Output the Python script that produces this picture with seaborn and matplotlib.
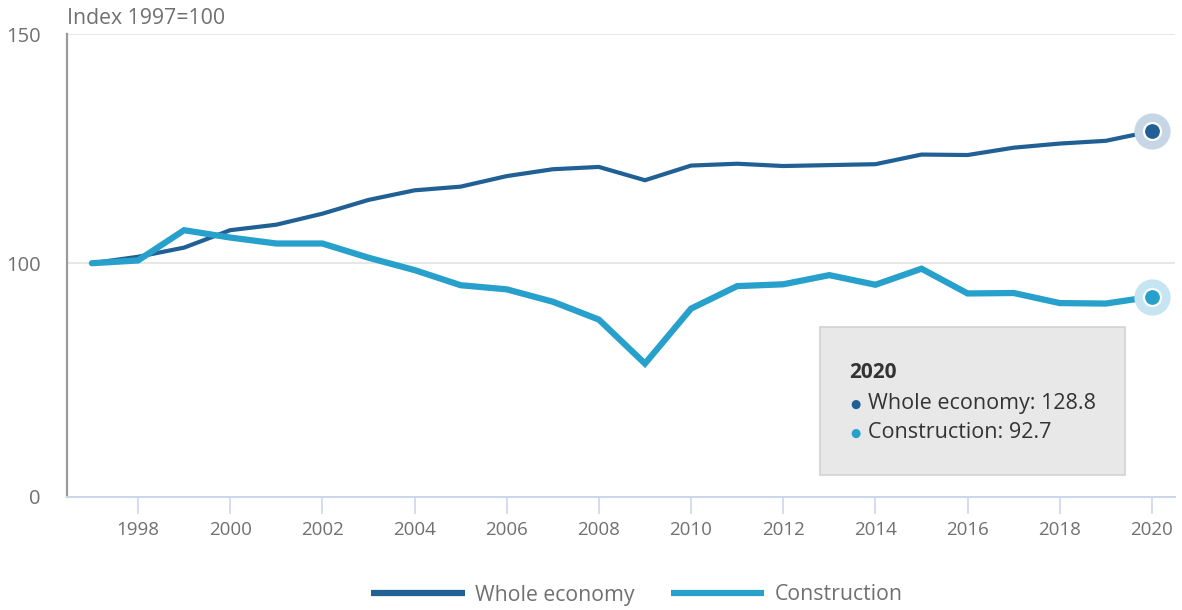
import matplotlib
matplotlib.use("Agg")
import matplotlib.pyplot as plt
from matplotlib.patches import Rectangle
from matplotlib.lines import Line2D
import numpy as np
import pandas as pd
import seaborn as sns

# Output per worker, index 1997 = 100
years = list(range(1997, 2021))
whole_economy = [100.0, 101.4, 103.4, 107.2, 108.4, 110.8, 113.8, 115.9, 116.7, 119.0,
                 120.5, 121.0, 118.1, 121.3, 121.7, 121.2, 121.4, 121.6, 123.7, 123.6,
                 125.2, 126.1, 126.7, 128.8]
construction = [100.0, 100.6, 107.2, 105.6, 104.3, 104.3, 101.2, 98.5, 95.2, 94.3,
                91.6, 87.7, 78.1, 90.1, 95.0, 95.4, 97.4, 95.3, 98.8, 93.4,
                93.5, 91.3, 91.2, 92.7]
series_names = ["Whole economy", "Construction"]
series_colors = ["#206095", "#27a0cc"]
halo_colors = ["#c7d6e4", "#c4e5f1"]
x_ticks = list(range(1998, 2021, 2))
y_ticks = [49, 100, 150]
y_tick_labels = ["0", "100", "150"]
unit_label = "Index 1997=100"
tooltip_year = 2020

sns.set_theme(style="white")
plt.rcParams["font.family"] = ["Open Sans", "DejaVu Sans"]

df = pd.DataFrame({
    "year": years * 2,
    "value": whole_economy + construction,
    "series": [series_names[0]] * len(years) + [series_names[1]] * len(years),
})

fig = plt.figure(figsize=(11.82, 6.10), dpi=100)
ax = fig.add_axes([67 / 1182, 1 - 497 / 610, (1175 - 67) / 1182, (497 - 34) / 610])

sns.lineplot(data=df, x="year", y="value", hue="series", hue_order=series_names,
             palette=series_colors, ax=ax, legend=False, sort=True)
widths = [3.0, 4.5]
for line, lw in zip(ax.get_lines(), widths):
    line.set_linewidth(lw)
    line.set_solid_joinstyle("miter")

# Highlighted last points
last_vals = [whole_economy[-1], construction[-1]]
for val, col, halo in zip(last_vals, series_colors, halo_colors):
    ax.scatter([years[-1]], [val], s=680, color=halo, zorder=4, linewidths=0)
    ax.scatter([years[-1]], [val], s=150, color=col, edgecolor="white",
               linewidths=1.6, zorder=5)

ax.set_xlim(1996.46, 2020.5)
ax.set_ylim(49, 150)
ax.set_xticks(x_ticks)
ax.set_xticklabels([str(y) for y in x_ticks])
ax.set_yticks(y_ticks)
ax.set_yticklabels(y_tick_labels)
ax.set_xlabel("")
ax.set_ylabel("")

text_gray = "#707070"
ax.tick_params(axis="x", colors="#ccd6eb", length=12, width=1.2, labelcolor=text_gray,
               labelsize=13.5, pad=5, bottom=True)
ax.tick_params(axis="y", length=0, labelcolor=text_gray, labelsize=14.5, pad=19)
for lab in ax.get_yticklabels():
    lab.set_horizontalalignment("right")

for y in [100, 150]:
    ax.axhline(y, color="#e3e3e3", lw=1.2, zorder=0)

for side in ["top", "right"]:
    ax.spines[side].set_visible(False)
ax.spines["left"].set_color("#9a9a9a")
ax.spines["left"].set_linewidth(1.6)
ax.spines["bottom"].set_color("#ccd6eb")
ax.spines["bottom"].set_linewidth(1.4)

fig.text(67 / 1182, 1 - 19 / 610, unit_label, color=text_gray, fontsize=15.3,
         va="center", ha="left")

# Tooltip box
box = Rectangle((820 / 1182, 1 - 475 / 610), 305 / 1182, 148 / 610,
                transform=fig.transFigure, facecolor="#e8e8e8",
                edgecolor="#d2d2d2", linewidth=1.2, zorder=10)
fig.patches.append(box)
tip_color = "#333333"
fig.text(849 / 1182, 1 - 373 / 610, str(tooltip_year), fontsize=15, fontweight="bold",
         color=tip_color, va="center", ha="left", zorder=11)
for i, (name, val, col) in enumerate(zip(series_names, last_vals, series_colors)):
    yy = 1 - (404 + 29 * i) / 610
    fig.text(850 / 1182, yy, "\u25CF", fontsize=8.5, color=col, va="center",
             ha="left", zorder=11)
    fig.text(868 / 1182, yy, f"{name}: {val:.1f}", fontsize=15.5, color=tip_color,
             va="center", ha="left", zorder=11)

handles = [Line2D([], [], color=c, lw=4.5, solid_capstyle="butt") for c in series_colors]
fig.legend(handles, series_names, loc="center", bbox_to_anchor=(0.539, 1 - 595 / 610),
           ncol=2, frameon=False, fontsize=15.3, handlelength=4.4, handletextpad=0.5,
           columnspacing=1.7, labelcolor=text_gray)

fig.savefig("out.png", dpi=100)
